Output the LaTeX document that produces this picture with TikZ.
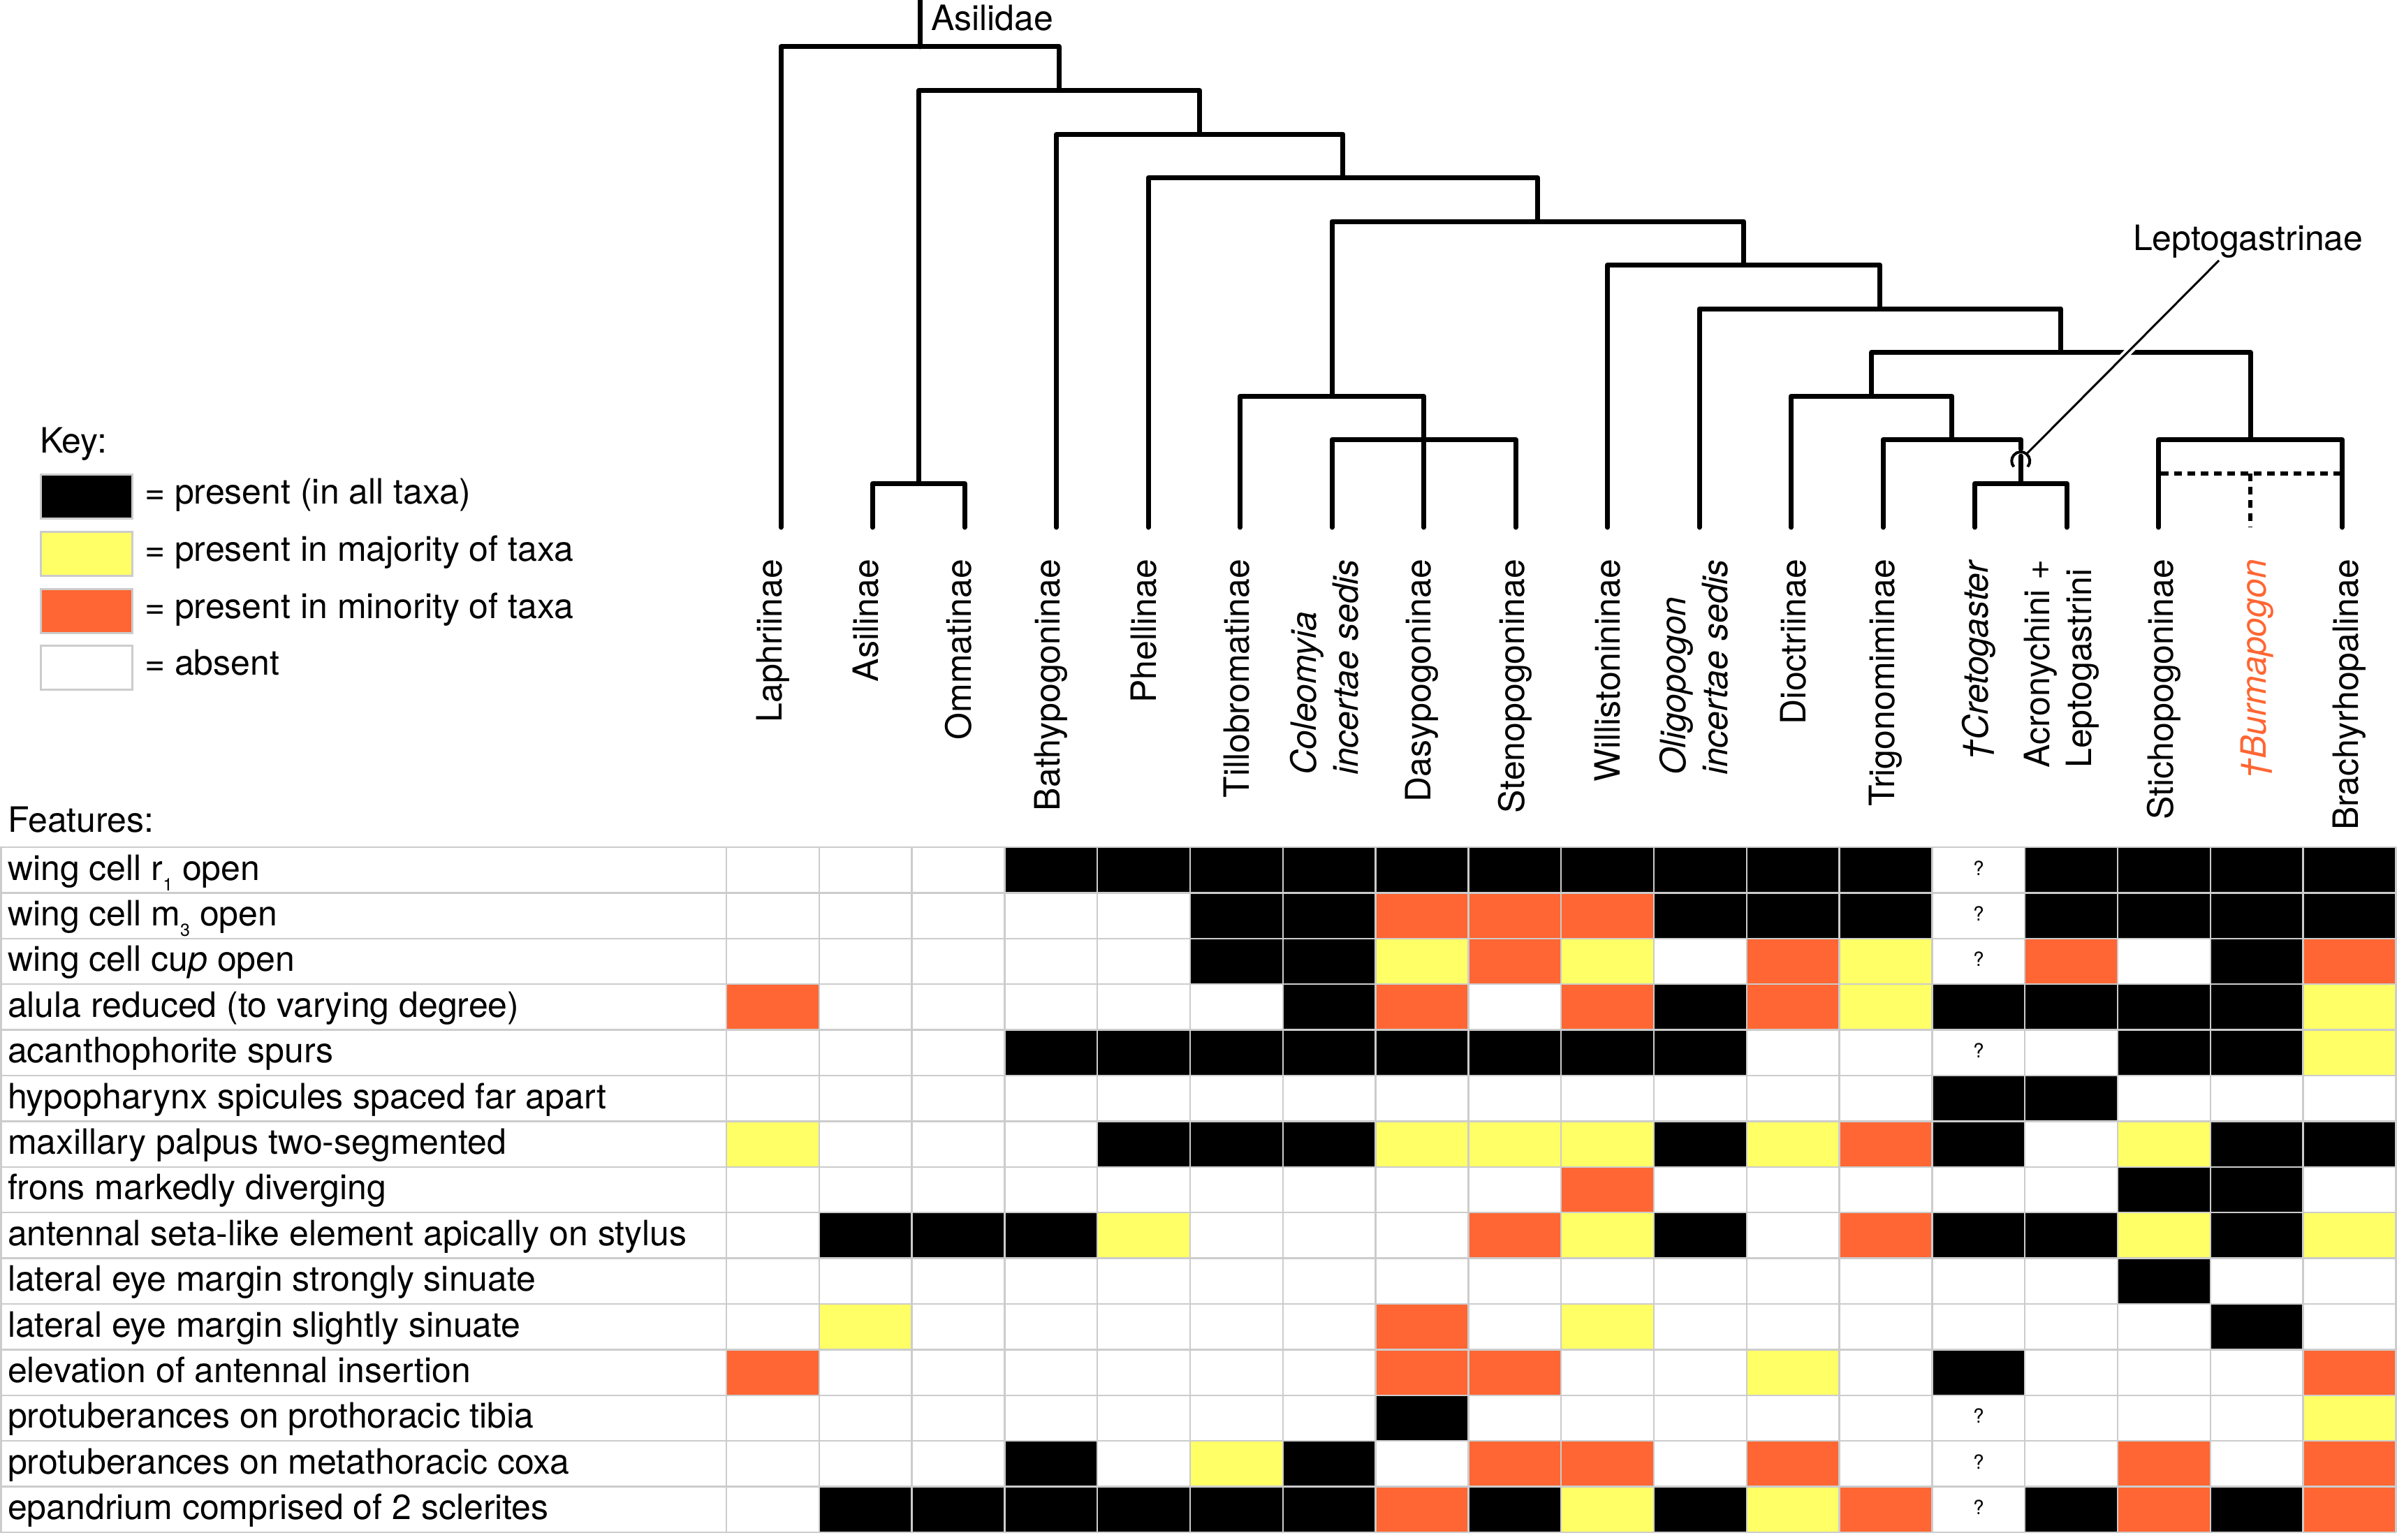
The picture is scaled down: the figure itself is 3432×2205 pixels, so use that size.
\documentclass[tikz,border=0pt]{standalone}
\usepackage{fontspec}
\setmainfont{TeX Gyre Heros}
\usetikzlibrary{calc}
\definecolor{cOr}{RGB}{255,102,51}
\definecolor{cYe}{RGB}{255,255,102}
\definecolor{cGr}{RGB}{204,204,204}
\colorlet{Fk}{black}
\colorlet{Fw}{white}
\colorlet{Fy}{cYe}
\colorlet{Fo}{cOr}
\colorlet{Fq}{white}
\newcommand{\lowsub}[1]{\raisebox{-15pt}{\fontsize{25}{25}\selectfont #1}}
\newcommand{\bigfont}{\fontsize{50}{60}\selectfont}
\begin{document}
\begin{tikzpicture}[x=1pt,y=-1pt,
  branch/.style={line width=7pt, line cap=round, line join=round},
  dotbranch/.style={line width=5.5pt, dash pattern=on 11pt off 8pt},
  lbl/.style={font=\bigfont, inner sep=0pt, outer sep=0pt},
  taxon/.style={lbl, rotate=90, anchor=east, align=left},
  swatch/.style={draw=cGr, line width=3pt, minimum width=131pt, minimum height=63pt, inner sep=0pt},
  gridline/.style={draw=cGr, line width=2.5pt},
  qmark/.style={font=\fontsize{28}{30}\selectfont, inner sep=0pt}]
\useasboundingbox (0,0) rectangle (3432,2205);

% ---------- table cells ----------
\foreach \vals [count=\r] in {
 {w,w,w,k,k,k,k,k,k,k,k,k,k,q,k,k,k,k},
 {w,w,w,w,w,k,k,o,o,o,k,k,k,q,k,k,k,k},
 {w,w,w,w,w,k,k,y,o,y,w,o,y,q,o,w,k,o},
 {o,w,w,w,w,w,k,o,w,o,k,o,y,k,k,k,k,y},
 {w,w,w,k,k,k,k,k,k,k,k,w,w,q,w,k,k,y},
 {w,w,w,w,w,w,w,w,w,w,w,w,w,k,k,w,w,w},
 {y,w,w,w,k,k,k,y,y,y,k,y,o,k,w,y,k,k},
 {w,w,w,w,w,w,w,w,w,o,w,w,w,w,w,k,k,w},
 {w,k,k,k,y,w,w,w,o,y,k,w,o,k,k,y,k,y},
 {w,w,w,w,w,w,w,w,w,w,w,w,w,w,w,k,w,w},
 {w,y,w,w,w,w,w,o,w,y,w,w,w,w,w,w,k,w},
 {o,w,w,w,w,w,w,o,o,w,w,y,w,k,w,w,w,o},
 {w,w,w,w,w,w,w,k,w,w,w,w,w,q,w,w,w,y},
 {w,w,w,k,w,y,k,w,o,o,w,o,w,q,w,o,w,o},
 {w,k,k,k,k,k,k,o,k,y,k,y,o,q,k,o,k,o}}{
  \foreach \v [count=\c] in \vals {
    \fill[F\v] ({1040+(\c-1)*132.8},{1213+(\r-1)*65.4}) rectangle ++(132.8,65.4);
  }
}
% question marks
\foreach \r in {1,2,3,5,13,14,15}
  \node[qmark] (q\r) at ({1040+13.5*132.8},{1213+(\r-0.5)*65.4-3}) {?};
% grid
\foreach \r in {0,...,15}
  \draw[gridline] (0,{1213+\r*65.4}) -- (3431,{1213+\r*65.4});
\draw[gridline] (1.5,1213) -- (1.5,2194);
\foreach \c in {0,...,18}
  \draw[gridline] ({1040+\c*132.8},1213) -- ({1040+\c*132.8},2194);

% ---------- feature labels ----------
\node[lbl, anchor=base west] (feat) at (11,1191) {Features:};
\foreach \t [count=\r] in {
 wing cell r\lowsub{1} open,
 wing cell m\lowsub{3} open,
 wing cell cu\textit{p} open,
 alula reduced (to varying degree),
 acanthophorite spurs,
 hypopharynx spicules spaced far apart,
 maxillary palpus two-segmented,
 frons markedly diverging,
 antennal seta-like element apically on stylus,
 lateral eye margin strongly sinuate,
 lateral eye margin slightly sinuate,
 elevation of antennal insertion,
 protuberances on prothoracic tibia,
 protuberances on metathoracic coxa,
 epandrium comprised of 2 sclerites}
  \node[lbl, anchor=base west] (f\r) at (11,{1213+(\r-1)*65.4+47}) {\t};

% ---------- key ----------
\node[lbl, anchor=base west] (key) at (57,648) {Key:};
\node[swatch, fill=black] (swk) at (124,711) {};
\node[lbl, anchor=base west] (kt1) at (207,721) {= present (in all taxa)};
\node[swatch, fill=cYe] (swy) at (124,793) {};
\node[lbl, anchor=base west] (kt2) at (207,803) {= present in majority of taxa};
\node[swatch, fill=cOr] (swo) at (124,875) {};
\node[lbl, anchor=base west] (kt3) at (207,885) {= present in minority of taxa};
\node[swatch, fill=white] (sww) at (124,956) {};
\node[lbl, anchor=base west] (kt4) at (207,966) {= absent};

% ---------- taxon labels ----------
\node[taxon] (x1) at ({1040+0.5*132.8},801) {Laphriinae};
\node[taxon] (x2) at ({1040+1.5*132.8},801) {Asilinae};
\node[taxon] (x3) at ({1040+2.5*132.8},801) {Ommatinae};
\node[taxon] (x4) at ({1040+3.5*132.8},801) {Bathypogoninae};
\node[taxon] (x5) at ({1040+4.5*132.8},801) {Phellinae};
\node[taxon] (x6) at ({1040+5.5*132.8},801) {Tillobromatinae};
\node[taxon] (x7) at ({1040+6.5*132.8-7},801) {\textit{Coleomyia}\\\textit{incertae sedis}};
\node[taxon] (x8) at ({1040+7.5*132.8},801) {Dasypogoninae};
\node[taxon] (x9) at ({1040+8.5*132.8},801) {Stenopogoninae};
\node[taxon] (x10) at ({1040+9.5*132.8},801) {Willistonininae};
\node[taxon] (x11) at ({1040+10.5*132.8-9},801) {\textit{Oligopogon}\\\textit{incertae sedis}};
\node[taxon] (x12) at ({1040+11.5*132.8},801) {Dioctriinae};
\node[taxon] (x13) at ({1040+12.5*132.8},801) {Trigonomiminae};
\node[taxon] (x14) at ({1040+13.5*132.8},801) {\textit{†Cretogaster}};
\node[taxon] (x15) at ({1040+14.5*132.8-14},801) {Acronychini +\\Leptogastrini};
\node[taxon] (x16) at ({1040+15.5*132.8},801) {Stichopogoninae};
\node[taxon, text=cOr] (x17) at ({1040+16.5*132.8},801) {\textit{†Burmapogon}};
\node[taxon] (x18) at ({1040+17.5*132.8},801) {Brachyrhopalinae};

% ---------- tree ----------
\foreach \i in {1,...,18}
  \coordinate (t\i) at ({986.5+131.5*\i},755);
\coordinate (root) at (1317.2,0);
\coordinate (n0) at (1317.2,67);
\coordinate (n1) at (1516.5,129.5);
\coordinate (n2) at (1717.7,192);
\coordinate (n3) at (1922.9,254.5);
\coordinate (n4) at (2201.9,317);
\coordinate (n5) at (2496.7,379.5);
\coordinate (n6) at (2691.9,442);
\coordinate (n7) at (2950.8,504.5);
\coordinate (nDi) at (2679.6,567);
\coordinate (nT1) at (1907,567);
\coordinate (nT2) at (2038.5,629.5);
\coordinate (nTr) at (2794.6,629.5);
\coordinate (nSt) at (3222,629.5);
\coordinate (nAO) at (1315.25,692);
\coordinate (nLg) at (2893.25,692);
\coordinate (cC) at (2893.25,660);
\coordinate (cTop) at (2893.25,643);
\coordinate (cIn) at (2893.25,653);
\coordinate (dotL) at (3094,678);
\coordinate (dotR) at (3353.5,678);
\coordinate (dotM) at (3222,678);

\draw[branch] (root) -- (n0);
\draw[branch] (t1) |- (n0) -| (n1);
\draw[branch] (nAO) |- (n1) -| (n2);
\draw[branch] (t2) |- (nAO) -| (t3);
\draw[branch] (t4) |- (n2) -| (n3);
\draw[branch] (t5) |- (n3) -| (n4);
\draw[branch] (nT1) |- (n4) -| (n5);
\draw[branch] (t6) |- (nT1) -| (nT2);
\draw[branch] (t7) |- (nT2) -| (t9);
\draw[branch] (nT2) -- (t8);
\draw[branch] (t10) |- (n5) -| (n6);
\draw[branch] (t11) |- (n6) -| (n7);
\draw[branch] (nDi) |- (n7) -| (nSt);
\draw[branch] (t12) |- (nDi) -| (nTr);
\draw[branch] (t13) |- (nTr) -| (cTop);
\draw[branch] (cIn) -- (nLg);
\draw[branch] (t14) |- (nLg) -| (t15);
\draw[branch] (t16) |- (nSt) -| (t18);
\draw[dotbranch] (dotL) -- (dotR);
\draw[dotbranch] (dotM) -- (t17);
% Leptogastrinae node marker
\draw[line width=4pt] ($(cC)+(-40:13pt)$) arc[start angle=-40, end angle=220, radius=13pt];
\coordinate (cLead) at ($(cC)+(50:14pt)$);
\coordinate (lpEnd) at (3177,373);
\draw[white, line width=11pt, shorten <=30pt] (cLead) -- (lpEnd);
\draw[line width=3pt] (cLead) -- (lpEnd);

\node[lbl, anchor=base west] (asil) at (1333,44) {Asilidae};
\node[lbl, anchor=base west] (lepto) at (3054,358) {Leptogastrinae};
\end{tikzpicture}
\end{document}
